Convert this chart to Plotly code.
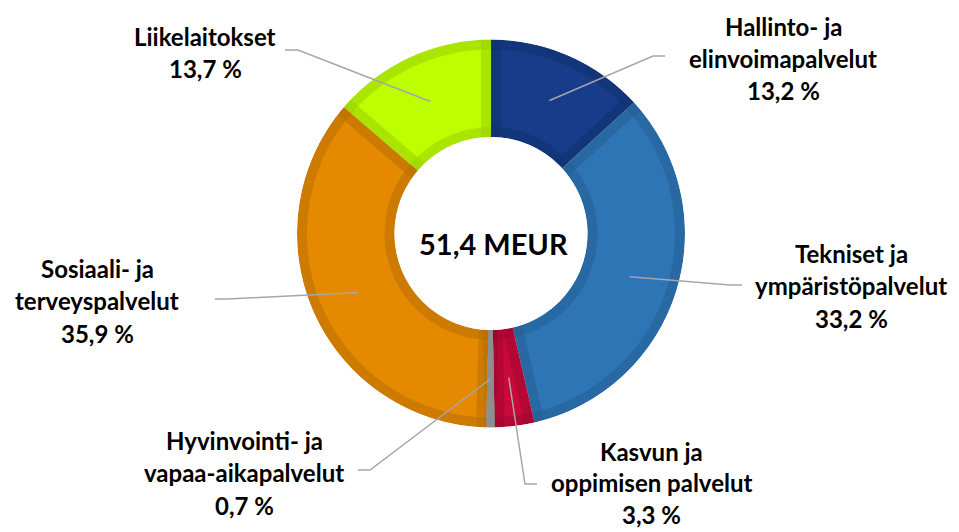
import math
import plotly.graph_objects as go

# ---------------- data ----------------
categories = [
    "Hallinto- ja elinvoimapalvelut",
    "Tekniset ja ympäristöpalvelut",
    "Kasvun ja oppimisen palvelut",
    "Hyvinvointi- ja vapaa-aikapalvelut",
    "Sosiaali- ja terveyspalvelut",
    "Liikelaitokset",
]
label_lines = [
    ["Hallinto- ja", "elinvoimapalvelut"],
    ["Tekniset ja", "ympäristöpalvelut"],
    ["Kasvun ja", "oppimisen palvelut"],
    ["Hyvinvointi- ja", "vapaa-aikapalvelut"],
    ["Sosiaali- ja", "terveyspalvelut"],
    ["Liikelaitokset"],
]
shares = [13.2, 33.2, 3.3, 0.7, 35.9, 13.7]
total_meur = 51.4

# ---------------- styles / layout ----------------
fill_colors = ["#173D8A", "#2E75B6", "#C8093A", "#8E8E8E", "#E58A00", "#BEFF00"]
W, H = 959, 532
CX, CY = 491, 233.5          # donut centre (px from top-left)
R_OUT, R_IN = 194, 96.5      # donut radii (px)
BORDER = 20                  # stroke width (half of it shows inside)
ALPHA = 0.052                # darkening per stroke pass
FONT = "Lato"

# label centre (x), first line centre (y) and line gap in px
label_pos = [(783, 26), (851, 253), (651, 451), (244, 440), (97, 268), (205, 36)]
line_gaps = [32.5, 32.5, 31.5, 32.5, 32.5, 32.5]
leader_elbow = [(653, 56), (730, 285), (525, 484), (370, 470), (228, 299), (298, 50)]
leader_end = [(665, 56), (742, 285), (537, 484), (358, 470), (215, 299), (285, 50)]


def domain(r):
    return dict(x=[(CX - r) / W, (CX + r) / W],
                y=[1 - (CY + r) / H, 1 - (CY - r) / H])


def px(x, y):
    return x / W, 1 - y / H


common = dict(sort=False, direction="clockwise", rotation=0,
              textinfo="none", hoverinfo="skip", showlegend=False)

fig = go.Figure()
# 1. light fills
fig.add_trace(go.Pie(values=shares, labels=categories, hole=R_IN / R_OUT,
                     domain=domain(R_OUT),
                     marker=dict(colors=fill_colors, line=dict(width=0)),
                     **common))
# 2. darkening strokes on every slice
fig.add_trace(go.Pie(values=shares, labels=categories, hole=R_IN / R_OUT,
                     domain=domain(R_OUT),
                     marker=dict(colors=["rgba(0,0,0,0)"] * len(shares),
                                 line=dict(width=BORDER, color=f"rgba(0,0,0,{ALPHA})")),
                     **common))
# 3. darkening on the ring arcs
fig.add_trace(go.Pie(values=[1], labels=["ring"], hole=R_IN / R_OUT,
                     domain=domain(R_OUT),
                     marker=dict(colors=["rgba(0,0,0,0)"],
                                 line=dict(width=BORDER, color=f"rgba(0,0,0,{ALPHA})")),
                     **common))
# 4. small grey slice on top, plain
grey_cols = ["rgba(0,0,0,0)"] * len(shares)
grey_cols[3] = fill_colors[3]
fig.add_trace(go.Pie(values=shares, labels=categories, hole=R_IN / R_OUT,
                     domain=domain(R_OUT),
                     marker=dict(colors=grey_cols, line=dict(width=0)),
                     **common))
# 5. white mask outside and inside
R_MASK = 215
fig.add_trace(go.Pie(values=[1], labels=["outer"], hole=R_OUT / R_MASK,
                     domain=domain(R_MASK),
                     marker=dict(colors=["white"], line=dict(width=0)), **common))
fig.add_trace(go.Pie(values=[1], labels=["inner"], hole=0,
                     domain=domain(R_IN),
                     marker=dict(colors=["white"], line=dict(width=0)), **common))

# ---------------- leader lines & labels ----------------
shapes = []
annotations = []
cum = 0.0
tot = sum(shares)
r_mid = (R_IN + R_OUT) / 2
for i, v in enumerate(shares):
    mid = (cum + v / 2) / tot * 2 * math.pi
    cum += v
    sx = CX + r_mid * math.sin(mid)
    sy = CY - r_mid * math.cos(mid)
    p0 = px(sx, sy)
    p1 = px(*leader_elbow[i])
    p2 = px(*leader_end[i])
    shapes.append(dict(type="path", xref="paper", yref="paper",
                       path=f"M {p0[0]},{p0[1]} L {p1[0]},{p1[1]} L {p2[0]},{p2[1]}",
                       line=dict(color="#A6A6A6", width=1.5)))
    lines = label_lines[i] + [f"{v:.1f}".replace(".", ",") + " %"]
    lx, ly = label_pos[i]
    for k, t in enumerate(lines):
        x, y = px(lx, ly + k * line_gaps[i])
        annotations.append(dict(text=f"<b>{t}</b>", x=x, y=y, xref="paper", yref="paper",
                                xanchor="center", yanchor="middle", showarrow=False,
                                borderpad=0,
                                font=dict(family=FONT, size=24, color="black")))

cx_, cy_ = px(493, 243)
annotations.append(dict(text=f"<b>{total_meur:.1f}".replace(".", ",") + " MEUR</b>",
                        x=cx_, y=cy_, xref="paper", yref="paper",
                        xanchor="center", yanchor="middle", showarrow=False,
                        font=dict(family=FONT, size=29, color="black")))

fig.update_layout(width=W, height=H, margin=dict(l=0, r=0, t=0, b=0),
                  paper_bgcolor="white", plot_bgcolor="white",
                  shapes=shapes, annotations=annotations)

fig.write_html("out.html", config={"displayModeBar": False},
               post_script="document.body.style.margin='0px';document.body.style.overflow='hidden';")
